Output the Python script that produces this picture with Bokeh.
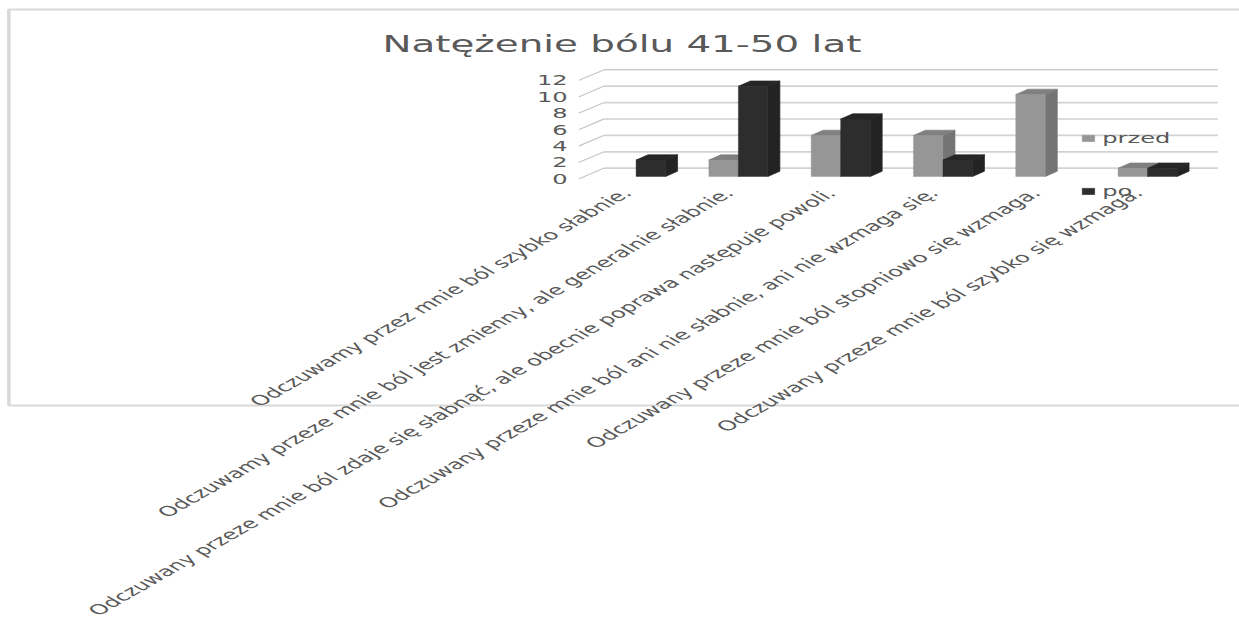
from bokeh.embed import file_html
from bokeh.models import BoxAnnotation, FixedTicker, Label, Legend, LegendItem, Range1d
from bokeh.plotting import figure
from bokeh.resources import INLINE
import math

categories = [
    "Odczuwamy przez mnie ból szybko słabnie.",
    "Odczuwamy przeze mnie ból jest zmienny, ale generalnie słabnie.",
    "Odczuwany przeze mnie ból zdaje się słabnąć, ale obecnie poprawa następuje powoli.",
    "Odczuwany przeze mnie ból ani nie słabnie, ani nie wzmaga się.",
    "Odczuwany przeze mnie ból stopniowo się wzmaga.",
    "Odczuwany przeze mnie ból szybko się wzmaga.",
]
przed = [0, 2, 5, 5, 10, 1]
po = [2, 11, 7, 2, 0, 1]
y_ticks = [0, 2, 4, 6, 8, 10, 12]
title_text = "Natężenie bólu 41-50 lat"

# The chart is laid out narrow and widened as a whole, so that type and rotated labels widen with it.
W, H, STRETCH = 1239, 629, 1.75
PX_X, PX_Y = 102.3, 8.2          # final pixels per category, per value unit
ZERO_X, ZERO_Y = 635.2, 178.3    # final pixel of category 0 and of value 0


def cat_x(px):
    return (px - ZERO_X) / PX_X


def val_y(px):
    return (ZERO_Y - px) / PX_Y


BAR_W = 29.5 / PX_X
DEPTH_X, DEPTH_Y = 12 / PX_X, 5.3 / PX_Y      # oblique depth of a bar
LIFT = 2.3 / PX_Y                             # bars stand slightly behind the axis front
WALL_X0, WALL_X1, SIDE_X0 = cat_x(603), cat_x(1217), cat_x(578)
WALL_DY = 10.6 / PX_Y
LABEL_SHIFT = -0.09                           # rotated labels end just left of the category centre

p = figure(
    width=round(W / STRETCH), height=H, output_backend="svg", toolbar_location=None,
    min_border=0, outline_line_color=None,
    x_range=Range1d(cat_x(0), cat_x(W)),
    y_range=Range1d(val_y(H), val_y(0)),
)
p.stylesheets = [f".bk-Canvas {{ transform: scaleX({STRETCH}); transform-origin: 0 0; }}"]
p.grid.visible = False

# chart card, open at the right edge of the page
p.add_layout(BoxAnnotation(
    left=cat_x(8), right=cat_x(W + 10), top=val_y(9), bottom=val_y(405),
    fill_alpha=0, line_color="#d9d9d9", line_alpha=1, line_width=2, level="underlay",
))

# back wall and side wall gridlines
wall_colors = ["#d2d2d2"] * (len(y_ticks) - 1) + ["#b4b4b4"]
wall_widths = [1.7] * (len(y_ticks) - 1) + [1.0]
p.segment([WALL_X0] * len(y_ticks), [v + WALL_DY for v in y_ticks],
          [WALL_X1] * len(y_ticks), [v + WALL_DY for v in y_ticks],
          line_color=wall_colors, line_width=wall_widths)
p.segment([SIDE_X0] * len(y_ticks), y_ticks,
          [WALL_X0] * len(y_ticks), [v + WALL_DY for v in y_ticks],
          line_color="#c4c4c4", line_width=1)


def bars(values, offset, front, top, side):
    idx = [i for i, v in enumerate(values) if v > 0]
    lefts = [i + offset for i in idx]
    rights = [x + BAR_W for x in lefts]
    tops = [values[i] + LIFT for i in idx]
    p.patches([[r, r + DEPTH_X, r + DEPTH_X, r] for r in rights],
              [[LIFT, LIFT + DEPTH_Y, t + DEPTH_Y, t] for t in tops],
              fill_color=side, line_color=side, line_width=0.5)
    p.patches([[l, l + DEPTH_X, r + DEPTH_X, r] for l, r in zip(lefts, rights)],
              [[t, t + DEPTH_Y, t + DEPTH_Y, t] for t in tops],
              fill_color=top, line_color=top, line_width=0.5)
    return p.quad(left=lefts, right=rights, bottom=[LIFT] * len(idx), top=tops,
                  fill_color=front, line_color=front, line_width=0.3)


r_przed = bars(przed, -BAR_W, "#969696", "#808080", "#747474")
r_po = bars(po, 0, "#2d2d2d", "#262626", "#232323")

# axes sit inside the full-page frame
x_ticks = [i + LABEL_SHIFT for i in range(len(categories))]
p.xaxis.fixed_location = val_y(182)
p.xaxis.ticker = FixedTicker(ticks=x_ticks)
p.xaxis.major_label_overrides = dict(zip(x_ticks, categories))
p.xaxis.major_label_orientation = math.radians(45)
p.xaxis.major_label_text_font = "DejaVu Sans"
p.xaxis.major_label_text_font_size = "13.85px"
p.xaxis.major_label_text_color = "#595959"
p.xaxis.major_label_standoff = 2
p.xaxis.axis_line_color = None
p.xaxis.major_tick_line_color = None
p.xaxis.minor_tick_line_color = None

p.yaxis.fixed_location = cat_x(579)
p.yaxis.ticker = FixedTicker(ticks=y_ticks)
p.yaxis.major_label_text_font = "DejaVu Sans"
p.yaxis.major_label_text_font_size = "13.8px"
p.yaxis.major_label_text_color = "#595959"
p.yaxis.major_label_standoff = 1
p.yaxis.axis_line_color = None
p.yaxis.major_tick_line_color = None
p.yaxis.minor_tick_line_color = None

p.add_layout(Label(
    x=cat_x(621), y=val_y(44), text=title_text, text_align="center", text_baseline="alphabetic",
    text_font="DejaVu Sans", text_font_size="22.2px", text_color="#595959",
))

legend = Legend(
    items=[LegendItem(label="przed", renderers=[r_przed]),
           LegendItem(label="po", renderers=[r_po])],
    location=(1079.5 / STRETCH, H - 199), orientation="vertical",
    background_fill_alpha=0, border_line_color=None, padding=0, margin=0,
    spacing=37, glyph_width=9, glyph_height=8, label_standoff=4,
    label_text_font="DejaVu Sans", label_text_font_size="13.8px", label_text_color="#595959",
)
p.add_layout(legend, "center")

open("out.html", "w").write(file_html(p, INLINE))
